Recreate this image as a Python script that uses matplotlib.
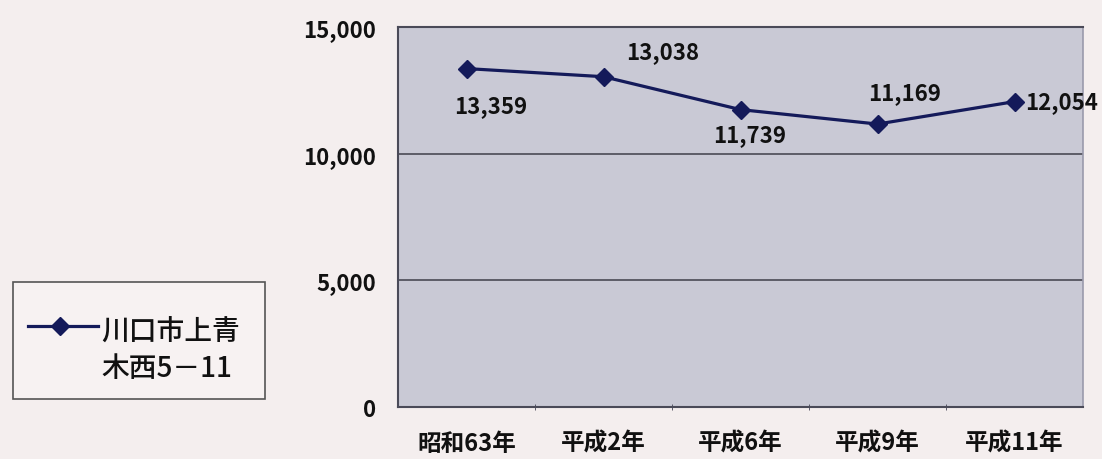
import matplotlib
matplotlib.use("Agg")
import matplotlib.pyplot as plt
from matplotlib.patches import Rectangle
from matplotlib.lines import Line2D

plt.rcParams['font.family'] = ['Noto Sans CJK JP', 'DejaVu Sans']

categories = ["昭和63年", "平成2年", "平成6年", "平成9年", "平成11年"]
values = [13359, 13038, 11739, 11169, 12054]
yticks = [0, 5000, 10000, 15000]
ytick_labels = ["0", "5,000", "10,000", "15,000"]
series_name = "川口市上青\n木西5－11"

# label offsets in points (dx, dy)
label_pos = [(-8.6, -26.6), (16.6, 18), (-20, -18), (-6.5, 23), (8, 0)]

fig = plt.figure(figsize=(11.02, 4.6), dpi=100)
fig.patch.set_facecolor('#f4eeee')
ax = fig.add_axes([398/1102, 1-408/460, (1083-398)/1102, (408-28)/460])
ax.set_facecolor('#c9c9d5')

x = list(range(len(categories)))
line_color = '#141a5a'
ax.plot(x, values, color=line_color, lw=2.3, marker='D', ms=9, mfc=line_color, mec=line_color)

for xi, v, (dx, dy) in zip(x, values, label_pos):
    ax.annotate(f"{v:,}", (xi, v), xytext=(dx, dy), textcoords='offset points',
                ha='left', va='center', fontsize=16, fontweight='bold', color='#111111')

ax.set_xlim(-0.5, len(categories) - 0.5)
ax.set_ylim(0, 15000)
ax.set_yticks(yticks)
ax.set_yticklabels(ytick_labels, fontsize=16, fontweight='bold', color='#111111')
ax.set_xticks(x)
ax.set_xticklabels(categories, fontsize=17, fontweight='bold', color='#111111')
ax.tick_params(axis='y', length=0, pad=16)
ax.tick_params(axis='x', length=0, pad=17)
ax.set_xticks([i + 0.5 for i in range(len(categories) - 1)], minor=True)
ax.tick_params(axis='x', which='minor', length=5, direction='inout', color='#444455')

for yv in yticks[1:-1]:
    ax.axhline(yv, color='#4a4a55', lw=1.2)

for s in ['left', 'top', 'bottom']:
    ax.spines[s].set_color('#4a4a58')
    ax.spines[s].set_linewidth(1.5)
ax.spines['right'].set_color('#9a9aac')
ax.spines['right'].set_linewidth(1.2)

# legend box
lx0, ly0, lw, lh = 13/1102, 1-400/460, (265-13)/1102, (400-283)/460
fig.patches.append(Rectangle((lx0, ly0), lw, lh, transform=fig.transFigure,
                             facecolor='#f7f2f2', edgecolor='#555555', lw=1.2))
fig.lines.append(Line2D([28/1102, 98/1102], [1-327/460, 1-327/460], transform=fig.transFigure,
                        color=line_color, lw=2.3))
fig.lines.append(Line2D([60/1102], [1-327/460], transform=fig.transFigure,
                        color=line_color, marker='D', ms=9, lw=0))
fig.text(101/1102, 1-350/460, series_name, fontsize=20, fontweight='medium', color='#111111',
         ha='left', va='center', linespacing=1.32)

fig.savefig('out.png', dpi=100, facecolor=fig.get_facecolor())
